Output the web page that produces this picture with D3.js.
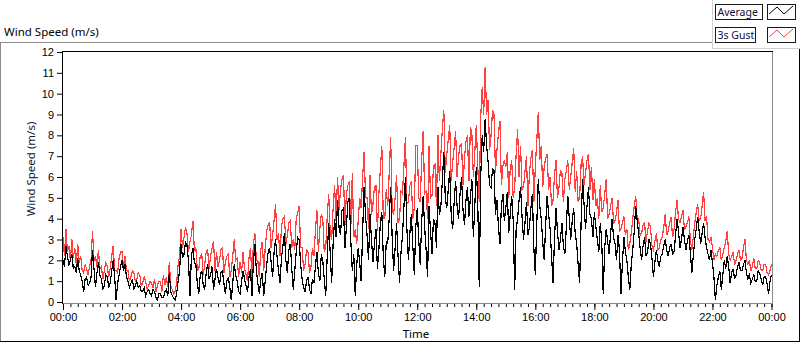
<!DOCTYPE html>
<html>
<head>
<meta charset="utf-8">
<script src="https://cdn.jsdelivr.net/npm/d3@7"></script>
<style>
  body { margin: 0; background: #fff; }
  svg { display: block; font-family: "Noto Sans", sans-serif; }
</style>
</head>
<body>
<div id="chart"></div>
<script>
// one value every 3 minutes (20 per hour)
const avg00to06 = [
  2.0, 1.7, 2.7, 2.2, 1.8, 2.0, 2.3, 1.6, 1.7, 1.4, 2.1, 1.5, 1.3, 1.0, 0.5, 1.1, 1.2, 0.8, 0.9, 1.2,
  2.5, 1.6, 0.7, 1.4, 1.9, 1.3, 1.1, 0.6, 0.8, 1.3, 1.2, 0.7, 0.9, 1.5, 2.0, 1.2, 0.1, 0.9, 1.3, 1.7,
  2.0, 1.5, 1.8, 1.2, 1.0, 0.7, 0.9, 1.1, 0.6, 0.8, 1.0, 0.7, 0.8, 0.5, 0.5, 0.7, 0.3, 0.5, 0.6, 0.4,
  0.3, 0.6, 0.5, 0.2, 0.1, 0.4, 0.4, 0.2, 0.2, 0.5, 0.6, 0.3, 1.4, 0.5, 0.3, 0.2, 0.1, 0.4, 1.0, 1.5,
  2.8, 2.1, 2.3, 2.9, 2.7, 2.0, 0.3, 2.2, 2.6, 1.9, 1.8, 0.9, 0.4, 1.3, 1.5, 0.8, 0.6, 1.4, 1.8, 1.1,
  1.3, 1.7, 0.6, 1.1, 1.6, 1.2, 0.8, 1.4, 1.5, 0.9, 0.4, 1.0, 1.2, 0.7, 0.1, 0.9, 1.8, 1.3, 1.0, 0.5
];
const avg06to12 = [
  0.4, 1.0, 1.5, 1.1, 0.8, 0.5, 1.2, 1.6, 0.3, 1.9, 2.8, 1.5, 0.9, 0.4, 1.1, 1.4, 0.3, 1.0, 1.8, 2.4,
  2.6, 1.9, 1.2, 2.4, 3.0, 2.2, 1.5, 0.9, 2.1, 2.7, 3.3, 2.0, 1.4, 2.5, 2.8, 1.6, 0.6, 1.5, 2.4, 3.1,
  3.0, 1.8, 1.1, 0.7, 0.5, 1.0, 1.2, 0.6, 0.4, 1.1, 0.9, 1.7, 2.4, 1.4, 1.0, 2.3, 2.0, 1.1, 0.3, 2.2,
  3.8, 2.4, 0.9, 2.8, 4.0, 3.1, 4.9, 3.6, 3.2, 4.4, 4.5, 2.6, 3.6, 4.8, 5.0, 2.9, 1.5, 2.3, 0.3, 1.8,
  2.6, 1.9, 1.0, 3.4, 5.5, 4.1, 3.2, 2.0, 4.2, 3.0, 1.9, 2.8, 3.5, 1.6, 2.5, 3.8, 4.3, 2.2, 1.2, 2.9,
  2.8, 4.0, 5.5, 3.1, 1.5, 2.6, 3.8, 2.2, 0.9, 2.4, 3.2, 4.6, 6.0, 3.5, 2.0, 3.3, 4.2, 2.7, 1.3, 3.6
];
const avg12to18 = [
  4.5, 3.0, 1.8, 3.9, 5.1, 3.6, 2.5, 1.2, 4.6, 3.4, 2.3, 4.0, 3.8, 2.6, 5.5, 4.2, 4.6, 5.8, 7.2, 5.0,
  4.5, 5.4, 6.3, 4.2, 3.5, 4.8, 5.8, 4.6, 4.0, 5.2, 6.0, 4.4, 3.7, 4.9, 5.5, 4.1, 5.0, 5.9, 3.1, 4.6,
  6.5, 4.8, 0.7, 6.0, 8.0, 7.2, 8.8, 7.5, 6.7, 5.6, 5.5, 6.4, 6.3, 4.2, 4.9, 3.6, 2.8, 4.6, 5.2, 3.9,
  4.5, 5.3, 3.3, 4.2, 5.1, 3.9, 0.6, 3.5, 4.0, 4.9, 5.5, 4.1, 3.0, 3.8, 4.8, 3.2, 3.6, 4.5, 5.2, 2.6,
  1.3, 3.8, 5.9, 4.6, 4.0, 2.9, 2.0, 3.7, 5.1, 4.2, 3.5, 2.2, 0.9, 3.1, 4.5, 3.4, 2.5, 3.0, 3.8, 2.7,
  2.3, 3.6, 5.1, 4.0, 3.0, 3.9, 4.5, 3.3, 2.8, 1.8, 0.9, 3.8, 5.9, 4.7, 3.5, 4.6, 5.5, 4.2, 4.0, 3.1
];
const avg18to24 = [
  4.3, 3.6, 3.0, 2.4, 3.8, 2.9, 0.4, 2.6, 3.5, 2.9, 2.3, 3.3, 4.0, 3.1, 2.8, 2.0, 3.2, 2.5, 0.4, 1.9,
  3.1, 2.4, 2.0, 1.2, 0.6, 1.8, 2.5, 3.4, 4.6, 3.9, 3.3, 2.6, 2.0, 2.7, 3.1, 2.2, 2.4, 3.0, 2.8, 2.1,
  1.2, 1.9, 2.5, 2.0, 1.7, 2.2, 2.3, 2.7, 3.0, 2.5, 2.2, 2.6, 2.8, 2.3, 2.4, 3.2, 4.0, 3.4, 2.6, 3.0,
  3.6, 3.0, 2.5, 2.9, 3.2, 2.4, 1.4, 2.2, 3.0, 3.5, 4.1, 3.4, 2.8, 3.3, 3.8, 3.1, 2.6, 2.3, 2.0, 2.5,
  1.9, 1.2, 0.1, 0.8, 1.2, 1.5, 0.6, 1.3, 2.0, 1.6, 2.2, 1.7, 0.9, 1.4, 1.6, 1.1, 1.3, 1.7, 1.9, 1.5,
  1.5, 1.8, 2.0, 1.4, 1.1, 1.3, 0.9, 1.1, 1.3, 1.0, 1.0, 1.5, 1.4, 1.1, 0.8, 1.2, 1.2, 0.9, 0.4, 1.0, 1.3
];

const gust00to06 = [
  3.1, 2.2, 3.5, 2.4, 2.7, 2.0, 3.0, 2.1, 2.6, 1.8, 2.8, 1.9, 2.2, 1.5, 1.4, 1.8, 1.6, 1.3, 1.7, 2.0,
  3.4, 2.0, 2.2, 1.7, 2.5, 1.6, 1.7, 1.1, 1.5, 1.9, 1.7, 1.2, 1.6, 2.2, 2.7, 1.5, 1.5, 1.4, 2.1, 2.4,
  2.4, 1.7, 2.2, 1.5, 1.5, 1.0, 1.2, 1.5, 1.4, 1.0, 1.1, 1.4, 1.3, 0.8, 0.9, 1.2, 1.0, 0.6, 0.8, 1.0,
  0.9, 0.7, 1.1, 0.5, 0.8, 1.0, 1.0, 0.5, 1.3, 0.8, 1.2, 0.7, 1.9, 0.8, 0.6, 0.4, 0.5, 0.9, 1.8, 2.2,
  3.5, 2.6, 3.1, 3.6, 3.3, 2.4, 2.9, 3.2, 3.9, 2.5, 2.6, 1.5, 1.6, 2.2, 2.3, 1.3, 1.8, 2.4, 2.5, 1.6,
  2.2, 2.6, 2.9, 1.5, 2.4, 1.7, 2.0, 2.5, 2.6, 1.4, 1.9, 2.2, 2.3, 1.2, 1.5, 2.2, 3.0, 2.0, 2.1, 1.2
];
const gust06to12 = [
  1.9, 1.4, 2.4, 1.6, 1.3, 1.0, 2.1, 2.6, 1.2, 2.8, 3.3, 2.0, 2.0, 1.2, 2.5, 2.9, 1.5, 2.6, 3.4, 3.7,
  3.8, 2.6, 3.2, 3.9, 4.7, 3.0, 3.3, 2.2, 3.6, 4.0, 4.1, 2.8, 3.2, 3.8, 3.9, 2.6, 3.0, 2.5, 4.0, 4.3,
  4.6, 2.6, 2.6, 1.5, 1.8, 2.5, 2.4, 1.4, 1.7, 2.6, 2.2, 3.4, 4.4, 2.4, 3.5, 4.2, 4.0, 2.4, 2.6, 4.1,
  5.2, 3.4, 3.0, 4.5, 5.6, 3.9, 6.0, 4.4, 5.4, 5.9, 6.1, 3.7, 5.2, 5.6, 5.8, 3.6, 6.2, 3.1, 3.5, 2.8,
  3.9, 5.0, 4.5, 6.0, 7.2, 5.0, 5.0, 3.5, 6.1, 4.2, 4.7, 5.5, 5.6, 3.4, 5.2, 6.4, 7.5, 4.0, 4.0, 5.4,
  4.6, 6.2, 7.9, 4.4, 4.2, 5.0, 6.1, 3.8, 4.0, 5.3, 5.2, 6.6, 7.9, 4.7, 4.8, 5.6, 5.8, 4.0, 4.5, 7.5
];
const gust12to18 = [
  7.5, 5.0, 4.8, 6.8, 8.2, 5.2, 5.3, 4.0, 7.5, 5.0, 5.1, 6.5, 6.6, 4.6, 8.0, 5.8, 7.1, 8.3, 9.2, 6.2,
  7.1, 7.8, 8.5, 5.8, 6.7, 7.4, 8.2, 6.0, 7.0, 7.5, 7.6, 5.6, 6.9, 7.7, 8.0, 5.8, 8.4, 8.1, 6.0, 7.2,
  8.5, 6.5, 4.8, 8.9, 10.3, 9.0, 11.3, 9.0, 9.7, 7.3, 8.0, 9.2, 9.0, 6.2, 7.3, 8.1, 8.7, 5.6, 6.5, 6.8,
  6.5, 7.2, 5.0, 6.4, 6.8, 5.0, 5.5, 7.1, 8.3, 6.0, 7.5, 5.4, 5.5, 6.3, 7.0, 4.6, 6.2, 6.9, 7.3, 4.8,
  6.5, 7.8, 9.1, 6.8, 7.5, 5.5, 6.5, 6.9, 7.1, 5.4, 6.0, 4.6, 4.9, 6.1, 6.8, 5.0, 5.5, 6.3, 6.2, 4.8,
  5.9, 6.3, 6.8, 5.4, 6.0, 6.7, 7.4, 5.3, 6.3, 4.8, 5.0, 6.6, 7.0, 5.6, 6.2, 6.8, 7.1, 5.4, 6.5, 4.9
];
const gust18to24 = [
  5.9, 4.6, 5.0, 4.0, 5.6, 4.3, 4.5, 5.2, 5.9, 4.0, 4.2, 4.6, 5.0, 3.8, 3.9, 4.3, 4.9, 3.4, 3.5, 3.8,
  4.1, 3.2, 3.5, 2.5, 2.8, 3.3, 4.0, 4.6, 5.1, 4.0, 4.0, 3.2, 3.3, 3.7, 3.8, 2.9, 3.4, 3.8, 3.6, 2.7,
  2.5, 2.9, 3.3, 2.5, 2.6, 3.0, 3.1, 3.6, 4.2, 3.2, 3.4, 3.8, 4.1, 3.1, 3.5, 4.3, 4.9, 4.0, 3.8, 4.1,
  4.4, 3.5, 3.6, 3.8, 4.1, 3.0, 2.5, 3.1, 3.8, 4.3, 4.7, 3.9, 4.0, 4.6, 5.3, 3.9, 4.1, 3.0, 2.9, 3.1,
  2.6, 2.0, 2.3, 2.2, 2.5, 2.6, 2.0, 2.3, 2.6, 2.9, 3.4, 2.3, 2.0, 2.2, 2.4, 1.8, 2.0, 2.3, 2.5, 2.0,
  2.1, 2.6, 3.0, 2.0, 1.8, 2.0, 1.5, 1.7, 2.1, 1.6, 1.6, 2.0, 1.9, 1.5, 1.5, 1.8, 1.8, 1.4, 1.3, 1.5, 1.8
];

const seriesNames = ["Average", "3s Gust"];
const seriesColors = ["#000000", "#ff4040"];
const yTickValues = [0, 1, 2, 3, 4, 5, 6, 7, 8, 9, 10, 11, 12];
const stepMinutes = 3;

const width = 800, height = 342;
const plot = { left: 62, right: 772, top: 52, bottom: 303 };

const t0 = new Date(Date.UTC(2000, 0, 1));
const t1 = new Date(Date.UTC(2000, 0, 2));
const timeAt = i => new Date(t0.getTime() + i * stepMinutes * 60000);

const average = [].concat(avg00to06, avg06to12, avg12to18, avg18to24);
const gust = [].concat(gust00to06, gust06to12, gust12to18, gust18to24);

const x = d3.scaleUtc().domain([t0, t1]).range([63, 771.5]);
const y = d3.scaleLinear().domain([0, 12]).range([302, 52]);

const svg = d3.select("#chart").append("svg")
    .attr("width", width)
    .attr("height", height);

// outer frame (light top/left, dark bottom/right)
svg.append("line").attr("x1", 0).attr("x2", 712).attr("y1", 42.5).attr("y2", 42.5)
    .attr("stroke", "#8a8a8a");
svg.append("line").attr("x1", 0.5).attr("x2", 0.5).attr("y1", 42).attr("y2", 342)
    .attr("stroke", "#8a8a8a");
svg.append("line").attr("x1", 0).attr("x2", 800).attr("y1", 341.5).attr("y2", 341.5)
    .attr("stroke", "#000");
svg.append("line").attr("x1", 799.5).attr("x2", 799.5).attr("y1", 48).attr("y2", 342)
    .attr("stroke", "#000");

// chart title
svg.append("text")
    .attr("x", 4)
    .attr("y", 36)
    .style("font-size", "11.5px")
    .attr("fill", "#000")
    .text("Wind Speed (m/s)");

// data lines, clipped to the plot area
svg.append("clipPath").attr("id", "plotClip")
  .append("rect")
    .attr("x", plot.left).attr("y", plot.top)
    .attr("width", plot.right - plot.left).attr("height", plot.bottom - plot.top);

const line = d3.line()
    .x((d, i) => x(timeAt(i)))
    .y(d => y(d));

// gust first so the average sits on top
const lines = svg.append("g").attr("clip-path", "url(#plotClip)");
[[gust, seriesColors[1]], [average, seriesColors[0]]].forEach(([values, color]) => {
    lines.append("path")
        .datum(values)
        .attr("d", line)
        .attr("fill", "none")
        .attr("stroke", color)
        .attr("stroke-width", 1.2)
        .style("shape-rendering", "crispEdges");
});

// plot frame: dark top/left, grey bottom/right
svg.append("line").attr("x1", plot.left).attr("x2", plot.right + 1)
    .attr("y1", 51.5).attr("y2", 51.5).attr("stroke", "#000");
svg.append("line").attr("x1", 62.5).attr("x2", 62.5)
    .attr("y1", 51).attr("y2", 304).attr("stroke", "#000");
svg.append("line").attr("x1", 772.5).attr("x2", 772.5)
    .attr("y1", 52).attr("y2", 304).attr("stroke", "#8a8a8a");
svg.append("line").attr("x1", 63).attr("x2", 773)
    .attr("y1", 303.5).attr("y2", 303.5).attr("stroke", "#8a8a8a");

// y axis
const yAxis = svg.append("g")
    .attr("transform", "translate(62,0)")
    .call(d3.axisLeft(y).tickValues(yTickValues).tickSize(5).tickPadding(3));
yAxis.select(".domain").remove();
yAxis.selectAll("text").style("font-size", "11px").attr("fill", "#000");

// x axis: minor ticks every 15 min, major every 2 h
const xMinor = svg.append("g")
    .attr("transform", "translate(0,304)")
    .call(d3.axisBottom(x).ticks(d3.utcMinute.every(15)).tickSize(3).tickFormat(""));
xMinor.select(".domain").remove();

const xAxis = svg.append("g")
    .attr("transform", "translate(0,304)")
    .call(d3.axisBottom(x).ticks(d3.utcHour.every(2)).tickSize(6).tickPadding(3)
        .tickFormat(d3.utcFormat("%H:%M")));
xAxis.select(".domain").remove();
xAxis.selectAll("text").style("font-size", "11px").attr("fill", "#000");

// axis titles
svg.append("text")
    .attr("x", 416)
    .attr("y", 338)
    .attr("text-anchor", "middle")
    .style("font-size", "11.5px")
    .attr("fill", "#000")
    .text("Time");

svg.append("text")
    .attr("transform", "translate(35,169) rotate(-90)")
    .attr("text-anchor", "middle")
    .style("font-size", "11.5px")
    .attr("fill", "#0d1636")
    .text("Wind Speed (m/s)");

// legend
svg.append("line").attr("x1", 712.5).attr("x2", 712.5).attr("y1", 0).attr("y2", 48)
    .attr("stroke", "#d0d0d0");
svg.append("line").attr("x1", 712).attr("x2", 800).attr("y1", 48.5).attr("y2", 48.5)
    .attr("stroke", "#d0d0d0");

const legendRows = [
    { name: seriesNames[0], color: seriesColors[0], y: 4, w: 47 },
    { name: seriesNames[1], color: seriesColors[1], y: 27, w: 40 }
];
const legend = svg.append("g");
legendRows.forEach(r => {
    legend.append("rect")
        .attr("x", 715.5).attr("y", r.y + 0.5)
        .attr("width", r.w).attr("height", 15)
        .attr("fill", "#fff").attr("stroke", "#1a1a1a");
    legend.append("text")
        .attr("x", 717.5).attr("y", r.y + 12)
        .style("font-size", "10.5px")
        .attr("fill", "#0a1040")
        .text(r.name);
    legend.append("rect")
        .attr("x", 767.5).attr("y", r.y + 0.5)
        .attr("width", 28).attr("height", 15)
        .attr("fill", "#fff").attr("stroke", "#1a1a1a");
    legend.append("path")
        .attr("d", `M769,${r.y + 10}L777,${r.y + 3}L784,${r.y + 10}L793,${r.y + 2}`)
        .attr("fill", "none")
        .attr("stroke", r.color);
});
</script>
</body>
</html>
